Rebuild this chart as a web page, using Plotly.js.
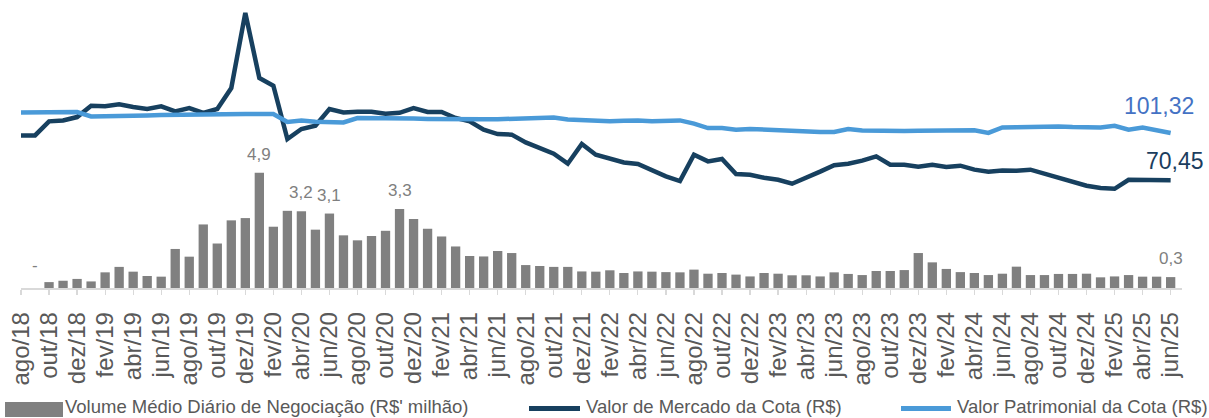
<!DOCTYPE html>
<html><head><meta charset="utf-8">
<script src="https://cdn.plot.ly/plotly-3.0.1.min.js"></script>
<style>html,body{margin:0;padding:0;background:#fff;overflow:hidden}#chart{width:1209px;height:418px}</style>
</head><body><div id="chart"></div>
<script>
const months = [
 "ago/18","set/18","out/18","nov/18","dez/18",
 "jan/19","fev/19","mar/19","abr/19","mai/19","jun/19","jul/19","ago/19","set/19","out/19","nov/19","dez/19",
 "jan/20","fev/20","mar/20","abr/20","mai/20","jun/20","jul/20","ago/20","set/20","out/20","nov/20","dez/20",
 "jan/21","fev/21","mar/21","abr/21","mai/21","jun/21","jul/21","ago/21","set/21","out/21","nov/21","dez/21",
 "jan/22","fev/22","mar/22","abr/22","mai/22","jun/22","jul/22","ago/22","set/22","out/22","nov/22","dez/22",
 "jan/23","fev/23","mar/23","abr/23","mai/23","jun/23","jul/23","ago/23","set/23","out/23","nov/23","dez/23",
 "jan/24","fev/24","mar/24","abr/24","mai/24","jun/24","jul/24","ago/24","set/24","out/24","nov/24","dez/24",
 "jan/25","fev/25","mar/25","abr/25","mai/25","jun/25"
];
// Volume Médio Diário de Negociação (R$' milhão)
const volume = [
 null, 0, 0.08, 0.14, 0.22,
 0.11, 0.51, 0.75, 0.54, 0.35, 0.32, 1.54, 1.20, 2.62, 1.78, 2.80, 2.90,
 4.9, 2.52, 3.22, 3.2, 2.39, 3.1, 2.14, 1.92, 2.11, 2.34, 3.3, 2.86,
 2.43, 2.09, 1.65, 1.23, 1.21, 1.45, 1.36, 0.83, 0.79, 0.75, 0.75, 0.55,
 0.54, 0.60, 0.48, 0.55, 0.54, 0.52, 0.51, 0.63, 0.45, 0.48, 0.41, 0.33,
 0.48, 0.45, 0.38, 0.38, 0.33, 0.51, 0.44, 0.39, 0.57, 0.57, 0.61, 1.36,
 0.95, 0.66, 0.52, 0.48, 0.39, 0.45, 0.76, 0.39, 0.39, 0.44, 0.44, 0.45,
 0.29, 0.33, 0.39, 0.32, 0.32, 0.3
];
// Valor de Mercado da Cota (R$)
const marketValue = [
 99.8, 99.8, 109.0, 109.6, 111.8,
 119.2, 118.8, 120.1, 118.4, 117.1, 118.8, 115.5, 117.7, 114.5, 117.1, 130.8, 179.9,
 137.3, 132.3, 97.4, 104.0, 106.1, 117.1, 114.8, 115.3, 115.3, 114.0, 114.6, 117.7,
 115.1, 115.1, 111.2, 109.0, 103.5, 100.7, 100.3, 95.2, 91.3, 87.8, 81.3, 94.2,
 87.2, 84.8, 82.1, 81.1, 76.9, 73.0, 69.9, 87.2, 82.8, 84.4, 74.6, 74.1,
 72.1, 70.8, 68.2, 71.9, 76.1, 80.3, 81.3, 83.3, 86.1, 80.6, 80.6, 79.3,
 80.6, 79.1, 80.0, 77.4, 76.1, 76.9, 76.7, 77.4, 74.8, 71.9, 69.3, 66.9,
 65.4, 64.9, 70.8, 70.8, 70.4, 70.45
];
// Valor Patrimonial da Cota (R$)
const bookValue = [
 114.8, 114.9, 114.9, 115.1, 115.1,
 112.2, 112.2, 112.4, 112.5, 112.9, 113.1, 113.3, 113.5, 113.8, 113.8, 113.8, 113.8,
 113.8, 113.8, 108.6, 109.6, 108.8, 108.3, 108.3, 111.2, 111.2, 111.2, 111.4, 110.8,
 110.6, 110.4, 110.4, 110.4, 110.4, 110.4, 110.6, 111.3, 111.5, 111.5, 110.2, 109.6,
 109.6, 109.0, 109.4, 109.6, 109.0, 109.2, 109.6, 107.5, 104.6, 104.6, 103.5, 104.0,
 103.5, 102.9, 102.9, 102.3, 102.1, 102.0, 104.0, 103.0, 102.8, 102.5, 102.7, 102.9,
 102.9, 102.9, 103.0, 103.1, 101.4, 105.0, 105.2, 105.3, 106.1, 105.7, 105.3, 105.1,
 105.0, 106.1, 103.5, 105.0, 103.5, 101.32
];
const volLabelIdx = [1, 17, 20, 22, 27, 82];
const volLabelText = ["-", "4,9", "3,2", "3,1", "3,3", "0,3"];
const endLabelMarket = "70,45";
const endLabelBook = "101,32";
const legendNames = ["Volume Médio Diário de Negociação (R$' milhão)", "Valor de Mercado da Cota (R$)", "Valor Patrimonial da Cota (R$)"];

const W = 1209, H = 418;
const M = {l: 21, r: 27, t: 5, b: 130};
const plotW = W - M.l - M.r, plotH = H - M.t - M.b;
const CAT_PX = 14.02;     // px per month
const BAR_PX = 22.7;      // px per R$ milhão
const LINE_PX = 1.529;    // px per R$
const FLOOR = -0.18;      // bar axis crossing
const px2x = px => (px - M.l) / plotW;
const py2y = py => (H - M.b - py) / plotH;

const FONT = "Liberation Sans, Arial, sans-serif";
const GRAY_TXT = "#595959";
const BAR_C = "#808080", DARK_C = "#17405f", BLUE_C = "#4a9ad8";

const tickvals = months.filter((m, i) => i % 2 === 0);

const traces = [
  {type: "bar", x: months, y: volume.map(v => (v == null || v <= 0) ? null : v - FLOOR),
   base: FLOOR, marker: {color: BAR_C}, yaxis: "y", name: legendNames[0], showlegend: false},
  {type: "scatter", mode: "lines", x: months, y: marketValue, yaxis: "y2",
   line: {color: DARK_C, width: 4.5}, name: legendNames[1], showlegend: false},
  {type: "scatter", mode: "lines", x: months, y: bookValue, yaxis: "y2",
   line: {color: BLUE_C, width: 4.5}, name: legendNames[2], showlegend: false}
];

const annotations = volLabelIdx.map((i, j) => ({
  x: months[i], y: Math.max(volume[i], 0), xref: "x", yref: "y", text: volLabelText[j],
  showarrow: false, yanchor: "bottom", yshift: 7,
  font: {family: FONT, size: 17, color: "#7f7f7f"}
}));
annotations.push({x: months[months.length-1], y: bookValue[bookValue.length-1], xref: "x", yref: "y2",
  text: endLabelBook, showarrow: false, xshift: -12, yshift: 27, font: {family: FONT, size: 23, color: "#4472c4"}});
annotations.push({x: months[months.length-1], y: marketValue[marketValue.length-1], xref: "x", yref: "y2",
  text: endLabelMarket, showarrow: false, xshift: 4, yshift: 19, font: {family: FONT, size: 23, color: "#1b3d5e"}});

// custom legend
const LEG_Y = 407;
const legFont = {family: FONT, size: 18.5, color: GRAY_TXT};
annotations.push({xref: "paper", yref: "paper", x: px2x(64), y: py2y(LEG_Y), xanchor: "left", yanchor: "middle",
  text: legendNames[0], showarrow: false, font: legFont, borderpad: 0});
annotations.push({xref: "paper", yref: "paper", x: px2x(585), y: py2y(LEG_Y), xanchor: "left", yanchor: "middle",
  text: legendNames[1], showarrow: false, font: legFont, borderpad: 0});
annotations.push({xref: "paper", yref: "paper", x: px2x(956), y: py2y(LEG_Y), xanchor: "left", yanchor: "middle",
  text: legendNames[2], showarrow: false, font: legFont, borderpad: 0});
const shapes = [
  {type: "rect", xref: "paper", yref: "paper", x0: px2x(5), x1: px2x(63), y0: py2y(402), y1: py2y(417),
   fillcolor: BAR_C, line: {width: 0}},
  {type: "line", xref: "paper", yref: "paper", x0: px2x(529), x1: px2x(580), y0: py2y(408.5), y1: py2y(408.5),
   line: {color: DARK_C, width: 5}},
  {type: "line", xref: "paper", yref: "paper", x0: px2x(901), x1: px2x(951), y0: py2y(408.5), y1: py2y(408.5),
   line: {color: BLUE_C, width: 5}}
];

const layout = {
  width: W, height: H, margin: M,
  paper_bgcolor: "#fff", plot_bgcolor: "#fff",
  showlegend: false, hovermode: false, bargap: 0.335,
  font: {family: FONT, color: GRAY_TXT},
  xaxis: {type: "category", range: [0, plotW / CAT_PX], tickmode: "array", tickvals: tickvals, ticktext: tickvals,
    tickangle: -90, tickfont: {family: FONT, size: 24, color: GRAY_TXT},
    showline: true, linecolor: "#d9d9d9", linewidth: 1.5, ticks: "outside", ticklen: 5, tickcolor: "#d9d9d9",
    tickwidth: 1.2, showgrid: false, zeroline: false, ticklabelstandoff: 8},
  yaxis: {range: [FLOOR, FLOOR + plotH / BAR_PX], visible: false, showgrid: false, zeroline: false},
  yaxis2: {range: [0, plotH / LINE_PX], overlaying: "y", visible: false, showgrid: false, zeroline: false},
  annotations: annotations, shapes: shapes
};

Plotly.newPlot("chart", traces, layout, {displayModeBar: false, staticPlot: true});
</script></body></html>
